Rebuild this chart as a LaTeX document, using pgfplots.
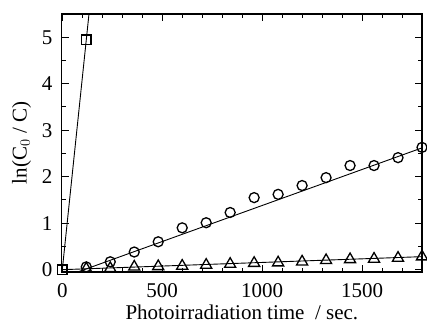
\documentclass[border=0pt]{standalone}
\usepackage{pgfplots}
\pgfplotsset{compat=1.18}
\usepackage{fontspec}
\setmainfont{Liberation Serif}
\begin{document}
\begin{tikzpicture}
\begin{axis}[
  scale only axis,
  width=360.3pt, height=258pt,
  xmin=-3, xmax=1800, ymin=-0.05, ymax=5.5,
  xtick={0,500,1000,1500},
  minor xtick={100,200,...,1800},
  ytick={0,1,2,3,4,5},
  minor ytick={0.5,1.5,...,5.5},
  tick align=inside,
  major tick length=7pt, minor tick length=4pt,
  axis line style={line width=1.5pt},
  every tick/.style={line width=1pt, black},
  /pgf/number format/assume math mode=true,
  scaled x ticks=false,
  xticklabel style={font=\fontsize{21}{25}\selectfont, /pgf/number format/1000 sep={}, anchor=base, yshift=-26pt, inner sep=0pt},
  yticklabel style={font=\fontsize{21}{25}\selectfont, anchor=east, inner sep=0pt, xshift=-9pt},
  xlabel={Photoirradiation time\ \ / sec.},
  ylabel={ln(C$_0$ / C)},
  every axis x label/.style={at={(rel axis cs:0.5,0)}, anchor=base, yshift=-48pt, font=\fontsize{21}{25}\selectfont},
  every axis y label/.style={at={(rel axis cs:0,0.5)}, anchor=center, rotate=90, yshift=40pt, font=\fontsize{21}{25}\selectfont},
  clip=false,
]
\coordinate (LL) at (rel axis cs:0,0);
\coordinate (UR) at (rel axis cs:1,1);
% fit lines
\addplot[black, line width=0.9pt, no marks] coordinates {(0,0) (1800,0.28)};
\addplot[black, line width=0.9pt, no marks] coordinates {(77,-0.05) (1800,2.62)};
\addplot[black, line width=0.9pt, no marks] coordinates {(0,0) (133.5,5.5)};
% triangles
\addplot[only marks, mark=triangle, mark size=6.4pt, line width=1.3pt, black, mark options={fill=white}] coordinates {
(120,0.02) (240,0.03) (360,0.06) (480,0.07) (600,0.08) (720,0.10) (840,0.12) (960,0.14)
(1080,0.15) (1200,0.17) (1320,0.20) (1440,0.22) (1560,0.23) (1680,0.25) (1800,0.28)};
% circles
\addplot[only marks, mark=o, mark size=5pt, line width=1.3pt, black, mark options={fill=white}] coordinates {
(120,0.06) (240,0.17) (360,0.38) (480,0.60) (600,0.90) (720,1.01) (840,1.23) (960,1.55)
(1080,1.62) (1200,1.81) (1320,1.98) (1440,2.24) (1560,2.24) (1680,2.41) (1800,2.63)};
% squares
\addplot[only marks, mark=square, mark size=4.6pt, line width=1.3pt, black, mark options={fill=white}] coordinates {
(0,0) (120,4.95)};
\end{axis}
\pgfresetboundingbox
\path ([shift={(-61.7pt,-53pt)}]LL) rectangle ([shift={(5pt,14pt)}]UR);
\end{tikzpicture}
\end{document}
